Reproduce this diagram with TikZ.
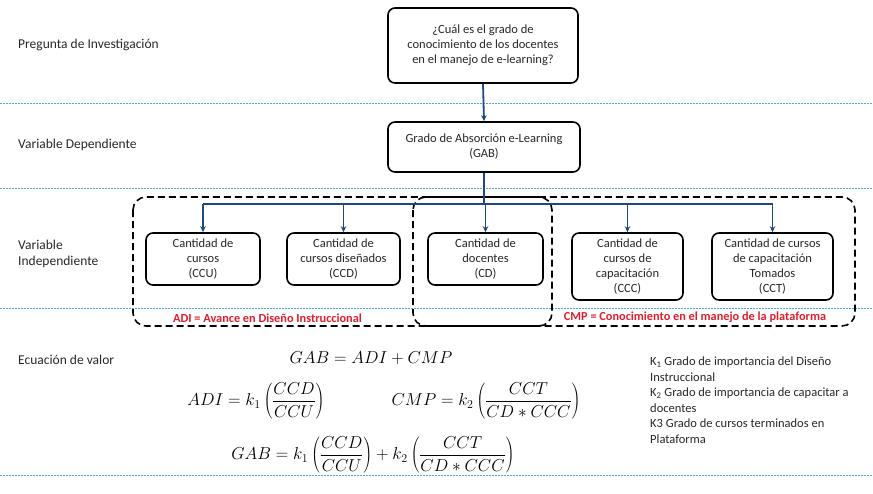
\documentclass[tikz,border=0pt]{standalone}
\usepackage{fontspec}
\setmainfont{Carlito}
\usetikzlibrary{arrows.meta}
\definecolor{conn}{RGB}{31,73,125}
\definecolor{dotc}{RGB}{75,172,198}
\definecolor{redl}{RGB}{225,30,45}
\definecolor{txt}{RGB}{40,40,40}
\begin{document}
\begin{tikzpicture}[x=1pt,y=-1pt,
  lbl/.style={anchor=west, align=left, inner sep=0pt, text=txt, font=\fontsize{13.5}{16.5}\selectfont},
  boxtxt/.style={draw, line width=1.6pt, rounded corners=7pt, fill=white, align=center, inner sep=0pt, text=txt, font=\fontsize{12.5}{15}\selectfont},
  grp/.style={draw, line width=1.6pt, rounded corners=13pt, dash pattern=on 7pt off 4pt},
  dotline/.style={draw=dotc, line width=0.8pt, dash pattern=on 1.5pt off 1.5pt},
  connline/.style={draw=conn, line width=1.8pt},
  connarrow/.style={draw=conn, line width=1.8pt, -{Stealth[length=6pt,width=5.5pt]}},
  redlbl/.style={text=redl, inner sep=0pt, font=\bfseries\fontsize{12.3}{14}\selectfont},
  eqn/.style={inner sep=0pt, font=\fontsize{17}{20}\selectfont},
  notes/.style={anchor=north west, align=left, inner sep=0pt, text=txt, font=\fontsize{12.5}{15.5}\selectfont}]
\useasboundingbox (0,0) rectangle (873,493);

% separators
\draw[dotline] (0,103) -- (873,103);
\draw[dotline] (0,188) -- (873,188);
\draw[dotline] (0,308) -- (873,308);
\draw[dotline] (0,475) -- (873,475);

% row labels
\node[lbl] (l1) at (18,45) {Pregunta de Investigación};
\node[lbl] (l2) at (18,145) {Variable Dependiente};
\node[lbl] (l3) at (18,254) {Variable\\Independiente};
\node[lbl] (l4) at (18,360) {Ecuación de valor};

% group boxes
\draw[grp] (133,197) rectangle (552,326);
\draw[grp] (413,197) rectangle (855,326);
\node[redlbl, anchor=west] (adi) at (173,318) {ADI = Avance en Diseño Instruccional};
\node[redlbl] (cmp) at (695,317) {CMP = Conocimiento en el manejo de la plataforma};

% boxes
\node[boxtxt, minimum width=190pt, minimum height=75pt] (q) at (483,45.5) {¿Cuál es el grado de\\conocimiento de los docentes\\en el manejo de e-learning?};
\node[boxtxt, minimum width=192pt, minimum height=50pt] (gab) at (484,147) {Grado de Absorción e-Learning\\(GAB)};
\node[boxtxt, minimum width=114pt, minimum height=52pt] (ccu) at (203,259) {Cantidad de\\cursos\\(CCU)};
\node[boxtxt, minimum width=113pt, minimum height=52pt] (ccd) at (343.5,259) {Cantidad de\\cursos diseñados\\(CCD)};
\node[boxtxt, minimum width=115pt, minimum height=52pt] (cd) at (485.5,259) {Cantidad de\\docentes\\(CD)};
\node[boxtxt, minimum width=111pt, minimum height=67pt] (ccc) at (627.5,266.5) {Cantidad de\\cursos de\\capacitación\\(CCC)};
\node[boxtxt, minimum width=121pt, minimum height=67pt] (cct) at (772.5,266.5) {Cantidad de cursos\\de capacitación\\Tomados\\(CCT)};

% connectors
\coordinate (bus) at (484,204);
\draw[connarrow] (q.south) -- (gab.north);
\draw[connline] (gab.south) -- (gab.south |- bus);
\draw[connline] (ccu.north |- bus) -- (cct.north |- bus);
\draw[connarrow] (ccu.north |- bus) -- (ccu.north);
\draw[connarrow] (ccd.north |- bus) -- (ccd.north);
\draw[connarrow] (cd.north |- bus) -- (cd.north);
\draw[connarrow] (ccc.north |- bus) -- (ccc.north);
\draw[connarrow] (cct.north |- bus) -- (cct.north);

% equations
\node[eqn] (e1) at (371,358) {$GAB = ADI + CMP$};
\node[eqn] (e2) at (256,401) {$\displaystyle ADI = k_1\left(\frac{CCD}{CCU}\right)$};
\node[eqn] (e3) at (486,401) {$\displaystyle CMP = k_2\left(\frac{CCT}{CD * CCC}\right)$};
\node[eqn] (e4) at (373,455) {$\displaystyle GAB = k_1\left(\frac{CCD}{CCU}\right) + k_2\left(\frac{CCT}{CD * CCC}\right)$};

% notes
\node[notes] (n) at (650,357) {K\textsubscript{1} Grado de importancia del Diseño\\Instruccional\\K\textsubscript{2} Grado de importancia de capacitar a\\docentes\\K3 Grado de cursos terminados en\\Plataforma};
\end{tikzpicture}
\end{document}
